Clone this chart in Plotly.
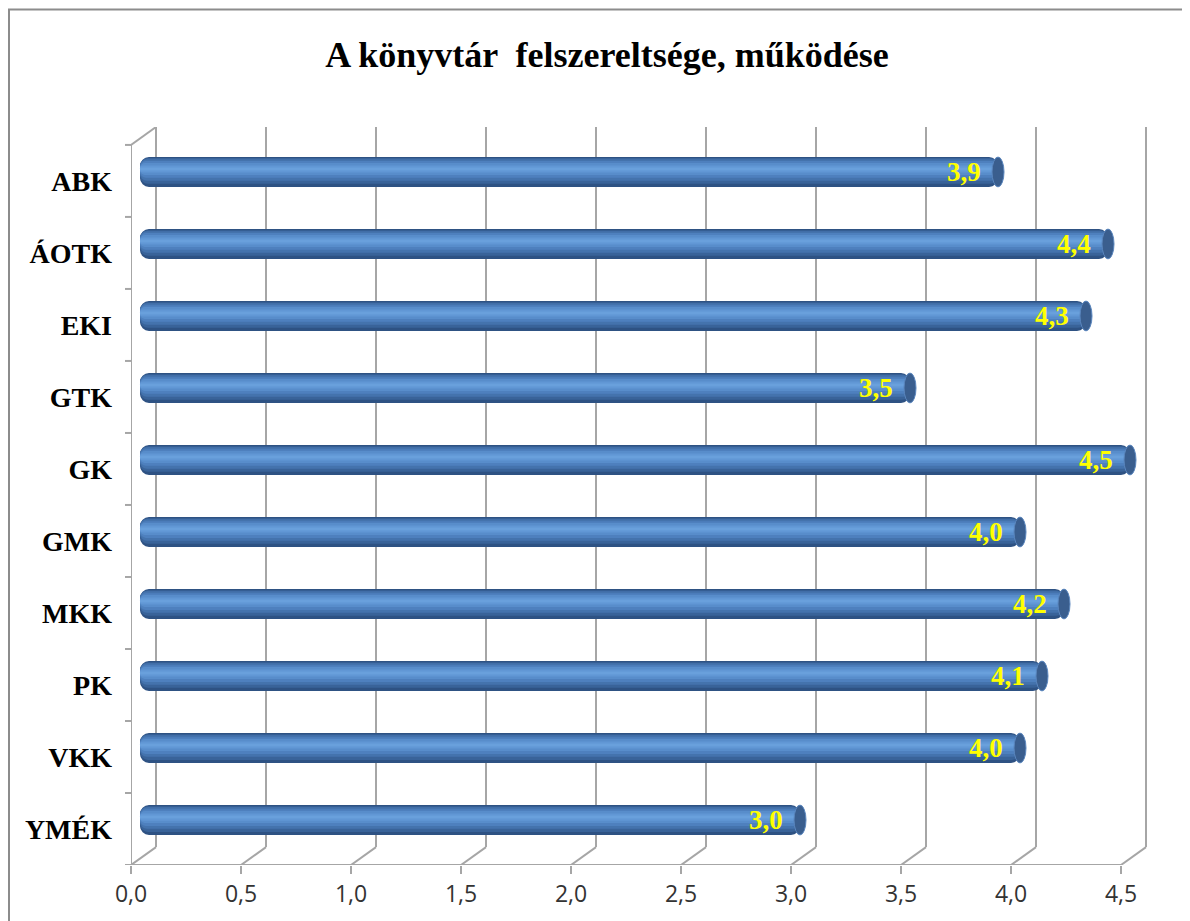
import plotly.graph_objects as go

# data
categories = ["ABK", "ÁOTK", "EKI", "GTK", "GK", "GMK", "MKK", "PK", "VKK", "YMÉK"]
values = [3.9, 4.4, 4.3, 3.5, 4.5, 4.0, 4.2, 4.1, 4.0, 3.0]
x_ticks = [0.0, 0.5, 1.0, 1.5, 2.0, 2.5, 3.0, 3.5, 4.0, 4.5]
x_tick_labels = ["0,0", "0,5", "1,0", "1,5", "2,0", "2,5", "3,0", "3,5", "4,0", "4,5"]
title = "A könyvtár  felszereltsége, működése"

# layout geometry (page adds an 8px body margin, so the figure is 8px smaller)
W, H = 1182, 913
L, R, T, B = 123, 19, 119, 53
PX_X = 1 / 220.0     # x units per pixel
PX_Y = 1 / 72.3      # y units per pixel (category spacing)
x_max = (W - L - R) * PX_X
y_top = 9.5 - (H - T - B) * PX_Y
dx = 25 * PX_X       # 3D depth offset
dy = 18 * PX_Y
bar_dx = 9 * PX_X
bar_dy = 9 * PX_Y
bar_w = 30 * PX_Y

grid = dict(color="#A6A6A6", width=2)
idx = list(range(len(categories)))
yc = [i - bar_dy for i in idx]

fig = go.Figure()

# cylinder bars: stacked layers to fake the shading
layers = [
    (1.00, 0.0, "#2E5283", 9),
    (0.86, -1.0, "#396399", 8),
    (0.72, -2.0, "#4473AD", 7),
    (0.56, -2.5, "#4E80BE", 6),
    (0.40, -3.0, "#588DCB", 5),
    (0.24, -3.0, "#6197D5", 3),
    (0.10, -3.0, "#69A0DC", 1),
]
for frac, shift, color, rad in layers:
    fig.add_trace(go.Bar(
        orientation="h",
        y=[y + shift * PX_Y for y in yc],
        x=[-v for v in values],
        base=[v + bar_dx for v in values],
        width=bar_w * frac,
        marker=dict(color=color, line=dict(width=0), cornerradius=rad),
        hoverinfo="skip",
        showlegend=False,
    ))

shapes = []
# back wall gridlines and floor diagonals
for t in x_ticks:
    shapes.append(dict(type="line", x0=t + dx, x1=t + dx, y0=9.5 - dy, y1=y_top,
                       line=grid, layer="below"))
    shapes.append(dict(type="line", x0=t, x1=t + dx, y0=9.5, y1=9.5 - dy,
                       line=grid, layer="below"))
# front axes
shapes.append(dict(type="line", x0=0, x1=x_ticks[-1], y0=9.5, y1=9.5, line=grid, layer="below"))
shapes.append(dict(type="line", x0=0, x1=0, y0=9.5, y1=-0.5, line=grid, layer="below"))
shapes.append(dict(type="line", x0=0, x1=dx, y0=-0.5, y1=-0.5 - dy, line=grid, layer="below"))
for i in range(len(categories) + 1):
    shapes.append(dict(type="line", xref="paper", x0=-6 / (W - L - R), x1=0,
                       y0=i - 0.5, y1=i - 0.5, line=grid))
# end caps
for v, y in zip(values, yc):
    shapes.append(dict(type="circle", x0=v + bar_dx - 6 * PX_X, x1=v + bar_dx + 6 * PX_X,
                       y0=y - bar_w / 2, y1=y + bar_w / 2,
                       fillcolor="#3A5E8E", line=dict(color="#5A86BE", width=1)))
# chart border
shapes.append(dict(type="rect", xref="paper", yref="paper",
                   x0=(1 - L) / (W - L - R), x1=(W + 10 - L) / (W - L - R),
                   y0=(H - B - H - 10) / (H - T - B), y1=(H - B - 1) / (H - T - B),
                   line=dict(color="#8C8C8C", width=2), layer="below"))

annotations = []
for v, y in zip(values, yc):
    annotations.append(dict(
        x=v + bar_dx - 15 * PX_X, y=y, xanchor="right", yanchor="middle",
        text="<b>" + f"{v:.1f}".replace(".", ",") + "</b>", showarrow=False,
        font=dict(family="Liberation Serif", size=27, color="#FFFF00"),
    ))

fig.update_layout(
    width=W, height=H,
    margin=dict(l=L, r=R, t=T, b=B),
    plot_bgcolor="white", paper_bgcolor="white",
    barmode="overlay",
    shapes=shapes,
    annotations=annotations,
    title=dict(text="<b>" + title + "</b>", x=599 / W, xanchor="center",
               y=1 - 46 / H, yanchor="middle",
               font=dict(family="Liberation Serif", size=36, color="black")),
    xaxis=dict(range=[0, x_max], tickvals=x_ticks, ticktext=x_tick_labels,
               showgrid=False, zeroline=False, showline=False,
               ticks="outside", ticklen=8, tickwidth=2, tickcolor="#A6A6A6",
               tickfont=dict(family="Open Sans", size=23, color="#333333")),
    yaxis=dict(range=[9.5, y_top], tickvals=idx, ticktext=["<b>" + c + "</b>" for c in categories],
               showgrid=False, zeroline=False, showline=False, ticks="",
               ticklabelstandoff=18,
               tickfont=dict(family="Liberation Serif", size=28, color="black")),
)

fig.write_html("out.html")
